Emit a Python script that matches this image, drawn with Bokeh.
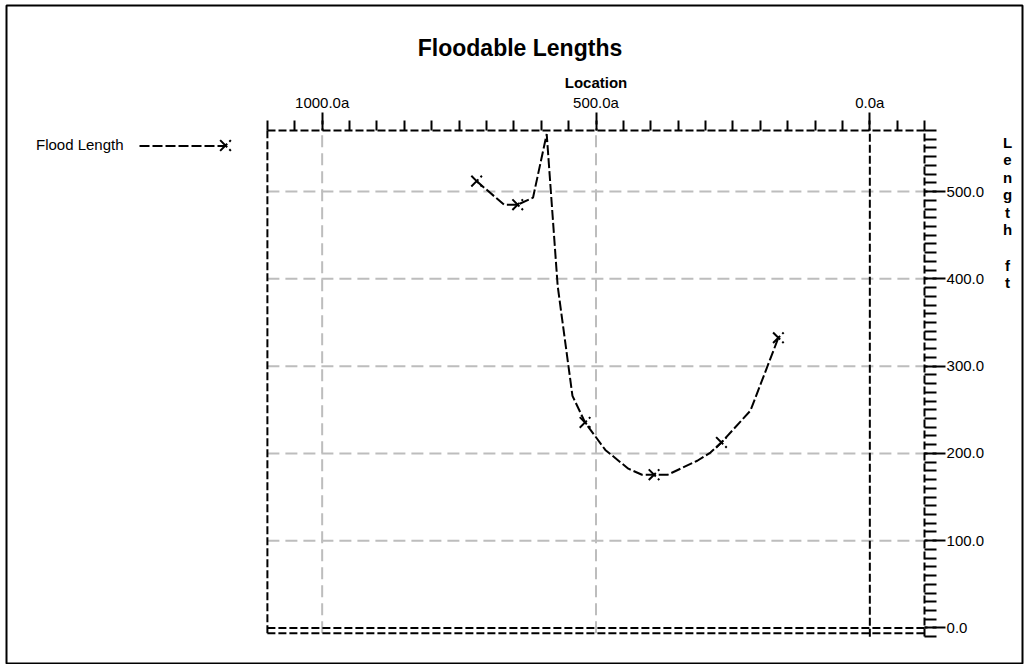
from bokeh.plotting import figure
from bokeh.models import (Range1d, FixedTicker, PrintfTickFormatter, Label,
                          Legend, LegendItem)
from bokeh.core.properties import value
from bokeh.embed import file_html
from bokeh.resources import INLINE

# ---- data ----
location = [718, 668, 643, 615, 590, 570, 543, 520, 483, 441, 416, 394, 369,
            315, 291, 271, 218, 167]
length_ft = [512, 485, 485, 493, 566, 392, 266, 235.5, 204, 182.5, 175.6, 175.6,
             175.6, 191.6, 201, 212.6, 249, 332.5]
marker_location = [718, 643, 520, 394, 271, 167]
marker_length = [512, 485, 235.5, 175.6, 212.6, 332.5]

x_major = [1000, 500, 0]
x_minor = list(range(-100, 1101, 50))
y_major = [0, 100, 200, 300, 400, 500]
y_minor = list(range(-10, 571, 10))
x_grid = [1000, 500]
y_grid = [100, 200, 300, 400, 500]

title_text = "Floodable Lengths"
x_label = "Location"
y_label = "L\ne\nn\ng\nt\nh\n\nf\nt"
series_name = "Flood Length"

# plot box (data limits) and its placement on the page (pixels)
X_LEFT, X_RIGHT = 1100, -100
Y_BOTTOM, Y_TOP = -6, 570
Y_AXIS_LOW = -10
BOX_L, BOX_R, BOX_T, BOX_B = 266.9, 924.1, 130.0, 632.7
# drawing frame = the whole bordered page
FR_L, FR_R, FR_T, FR_B = 6, 1022, 5, 664

FONT = "Liberation Sans"

kx = (BOX_R - BOX_L) / (X_LEFT - X_RIGHT)
ky = (BOX_B - BOX_T) / (Y_TOP - Y_BOTTOM)
x_start = X_LEFT + (BOX_L - FR_L) / kx
x_end = X_RIGHT - (FR_R - BOX_R) / kx
y_end = Y_TOP + (BOX_T - FR_T) / ky
y_start = Y_BOTTOM - (FR_B - BOX_B) / ky


def sx(px):
    return px - FR_L


def sy(py):
    return FR_B - py


p = figure(width=FR_R + 6, height=FR_B, output_backend="svg",
           toolbar_location=None,
           x_range=Range1d(x_start, x_end), y_range=Range1d(y_start, y_end),
           x_axis_location="above", y_axis_location="right",
           min_border_left=FR_L, min_border_top=FR_T, min_border_right=6,
           min_border_bottom=0)

p.outline_line_color = "black"
p.outline_line_width = 2
p.background_fill_color = "white"
p.border_fill_color = "white"
p.xgrid.visible = False
p.ygrid.visible = False

# top x axis, drawn on the top edge of the plot box
xa = p.xaxis[0]
xa.fixed_location = Y_TOP
xa.bounds = (X_RIGHT, X_LEFT)
xa.ticker = FixedTicker(ticks=x_major, minor_ticks=x_minor)
xa.formatter = PrintfTickFormatter(format="%.1fa")
xa.axis_label = x_label
xa.axis_label_text_font = FONT
xa.axis_label_text_font_size = "15px"
xa.axis_label_text_font_style = "bold"
xa.axis_label_text_color = "black"
xa.axis_label_standoff = 0
xa.major_label_text_font = FONT
xa.major_label_text_font_size = "15px"
xa.major_label_text_color = "black"
xa.major_label_standoff = 2
xa.axis_line_color = "black"
xa.axis_line_width = 2
xa.axis_line_dash = "8 3"
xa.major_tick_in = 0
xa.major_tick_out = 18
xa.major_tick_line_width = 2
xa.major_tick_line_dash = "12 4"
xa.minor_tick_in = 0
xa.minor_tick_out = 10
xa.minor_tick_line_width = 2

# right y axis, drawn on the right edge of the plot box
ya = p.yaxis[0]
ya.fixed_location = X_RIGHT
ya.bounds = (Y_AXIS_LOW, Y_TOP)
ya.ticker = FixedTicker(ticks=y_major, minor_ticks=y_minor)
ya.formatter = PrintfTickFormatter(format="%.1f")
ya.major_label_text_font = FONT
ya.major_label_text_font_size = "15px"
ya.major_label_text_color = "black"
ya.major_label_standoff = 1
ya.axis_line_color = "black"
ya.axis_line_width = 2
ya.axis_line_dash = "8 3"
ya.major_tick_in = 0
ya.major_tick_out = 21
ya.major_tick_line_width = 2
ya.major_tick_line_dash = "13 5"
ya.minor_tick_in = 0
ya.minor_tick_out = 12
ya.minor_tick_line_width = 2

# grey grid lines, limited to the plot box
nx, ny = len(x_grid), len(y_grid)
p.segment(x0=x_grid, y0=[Y_BOTTOM] * nx, x1=x_grid, y1=[Y_TOP] * nx,
          line_color="#bdbdbd", line_width=2, line_dash="12 6")
p.segment(x0=[X_LEFT] * ny, y0=y_grid, x1=[X_RIGHT] * ny, y1=y_grid,
          line_color="#bdbdbd", line_width=2, line_dash="12 6")

# black dashed zero lines and the plot box's left / bottom edges
p.segment(x0=[0, X_LEFT, X_LEFT, X_LEFT], y0=[Y_AXIS_LOW, 0, Y_BOTTOM, Y_BOTTOM],
          x1=[0, X_RIGHT, X_RIGHT, X_LEFT], y1=[Y_TOP, 0, Y_BOTTOM, Y_TOP],
          line_color="black", line_width=2, line_dash="8 3")

# series
line_r = p.line(location, length_ft, line_color="black", line_width=2,
                line_dash="10 3")
mark_r = p.scatter(marker_location, marker_length, marker="x", size=15,
                   line_color="black", line_width=2, line_dash="10 3")

# legend: text, then dashed sample, then marker (as in the reference)
common = dict(padding=0, margin=0, spacing=0,
              border_line_alpha=0, background_fill_alpha=0,
              label_text_font=FONT, label_text_font_size="15px",
              label_text_color="black", label_standoff=0)
legend_text = Legend(items=[LegendItem(label=value(series_name), renderers=[line_r])],
                     location=(sx(36), sy(137.5) - 15), glyph_width=0,
                     glyph_height=15, label_height=15, **common)
legend_line = Legend(items=[LegendItem(label=value(""), renderers=[line_r])],
                     location=(sx(139), sy(137.5) - 15), glyph_width=86,
                     glyph_height=15, label_height=15, label_width=1, **common)
legend_mark = Legend(items=[LegendItem(label=value(""), renderers=[mark_r])],
                     location=(sx(225 - 19), sy(145 - 19) - 38), glyph_width=38,
                     glyph_height=38, label_height=15, label_width=1, **common)
for lg in (legend_text, legend_line, legend_mark):
    p.add_layout(lg)

# title
p.add_layout(Label(x=sx(519.5), y=sy(47), x_units="screen", y_units="screen",
                   text=title_text, text_font=FONT, text_font_size="23px",
                   text_font_style="bold", text_align="center",
                   text_baseline="alphabetic", text_color="black"))

# right-hand stacked axis title
p.add_layout(Label(x=sx(1007), y=sy(133), x_units="screen", y_units="screen",
                   text=y_label, text_font=FONT, text_font_size="15px",
                   text_font_style="bold", text_align="center",
                   text_baseline="top", text_line_height=1.035,
                   text_color="black"))

open("out.html", "w").write(file_html(p, INLINE))
